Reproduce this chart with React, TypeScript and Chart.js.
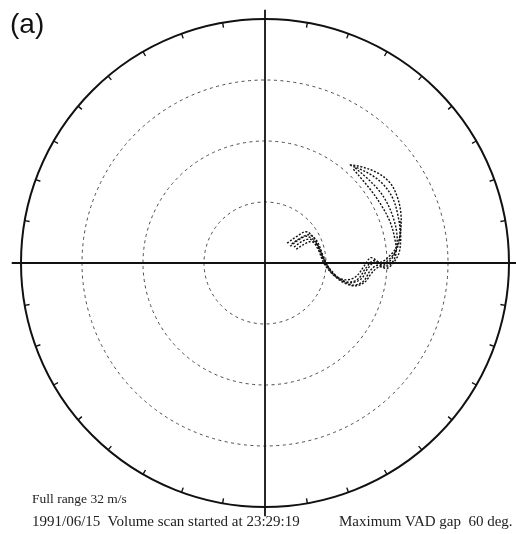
import React, { useEffect, useRef } from "react";
import { Chart, registerables } from "chart.js";

Chart.register(...registerables);

// Hodograph: wind components (m/s), u = east-west, v = north-south
const FULL_RANGE = 32;
const RING_SPEEDS = [8, 16, 24];
const TICK_STEP_DEG = 10;

// Several VAD profiles from the volume scan, one trace each
const traceA_u = [2.9, 4.2, 5.4, 6.4, 7.2, 8.0, 8.9, 10.4, 11.9, 13.0, 13.9, 15.1, 16.3, 17.3, 17.8, 17.8, 17.3, 16.4, 14.8, 12.7, 11.1];
const traceA_v = [2.6, 3.5, 4.1, 3.3, 1.7, 0.0, -1.4, -2.2, -1.8, -0.4, 0.7, 0.1, 0.9, 2.2, 4.3, 6.7, 8.8, 10.5, 11.8, 12.6, 12.9];

const traceB_u = [3.3, 4.5, 5.5, 6.6, 7.3, 8.1, 9.2, 10.8, 12.2, 13.2, 14.2, 15.3, 16.5, 17.4, 17.7, 17.4, 16.8, 15.7, 14.2, 12.5, 11.2];
const traceB_v = [2.2, 3.1, 3.5, 2.8, 1.2, -0.4, -1.7, -2.5, -2.1, -0.7, 0.3, -0.1, 0.7, 2.1, 4.2, 6.4, 8.4, 10.1, 11.4, 12.3, 12.8];

const traceC_u = [3.5, 4.7, 5.8, 6.8, 7.6, 8.4, 9.6, 11.1, 12.6, 13.5, 14.4, 15.5, 16.5, 17.2, 17.3, 16.8, 15.9, 14.7, 13.2, 11.8];
const traceC_v = [2.5, 3.3, 3.7, 2.9, 1.0, -0.7, -2.0, -2.6, -2.1, -0.7, 0.1, -0.3, 0.4, 1.8, 3.8, 6.0, 8.1, 9.8, 11.3, 12.5];

const traceD_u = [3.8, 5.0, 6.0, 7.0, 7.7, 8.7, 10.0, 11.5, 12.9, 13.8, 14.7, 15.7, 16.7, 17.2, 17.0, 16.4, 15.3, 14.0, 12.7, 11.5];
const traceD_v = [2.1, 2.9, 3.1, 2.2, 0.5, -1.0, -2.2, -2.9, -2.4, -1.0, -0.3, -0.5, 0.1, 1.4, 3.3, 5.4, 7.5, 9.4, 11.0, 12.4];

const traceE_u = [4.1, 5.2, 6.2, 7.0, 7.7, 8.8, 10.2, 11.8, 13.1, 14.0, 15.0, 16.0, 16.9, 17.6, 17.8, 17.7];
const traceE_v = [1.8, 2.5, 2.8, 1.7, 0.0, -1.4, -2.5, -3.0, -2.5, -1.3, -0.5, -0.7, 0.1, 1.4, 3.4, 5.6];

const TRACES = [
  [traceA_u, traceA_v],
  [traceB_u, traceB_v],
  [traceC_u, traceC_v],
  [traceD_u, traceD_v],
  [traceE_u, traceE_v],
];

const toPoints = (u: number[], v: number[]) => u.map((x, i) => ({ x, y: v[i] }));

// Range rings, axes and compass ticks drawn under the traces
const hodoGrid = {
  id: "hodoGrid",
  beforeDatasetsDraw(chart: any) {
    const { ctx, scales } = chart;
    const xs = scales.x;
    const ys = scales.y;
    const cx = xs.getPixelForValue(0);
    const cy = ys.getPixelForValue(0);
    const px = (s: number) => xs.getPixelForValue(s) - cx;

    ctx.save();

    // dotted range rings
    ctx.strokeStyle = "#4a4a4a";
    ctx.lineWidth = 1;
    ctx.setLineDash([3, 3.5]);
    RING_SPEEDS.forEach((s) => {
      ctx.beginPath();
      ctx.arc(cx, cy, px(s), 0, Math.PI * 2);
      ctx.stroke();
    });
    ctx.setLineDash([]);

    // outer ring
    const R = px(FULL_RANGE);
    ctx.strokeStyle = "#111";
    ctx.lineWidth = 2;
    ctx.beginPath();
    ctx.arc(cx, cy, R, 0, Math.PI * 2);
    ctx.stroke();

    // axes, a little past the outer ring
    const ext = FULL_RANGE * 1.038;
    ctx.lineWidth = 1.8;
    ctx.beginPath();
    ctx.moveTo(xs.getPixelForValue(-ext), cy);
    ctx.lineTo(xs.getPixelForValue(ext), cy);
    ctx.moveTo(cx, ys.getPixelForValue(ext));
    ctx.lineTo(cx, ys.getPixelForValue(-ext));
    ctx.stroke();

    // inward ticks every 10 degrees
    ctx.lineWidth = 1.4;
    const tickLen = px(0.65);
    ctx.beginPath();
    for (let d = 0; d < 360; d += TICK_STEP_DEG) {
      if (d % 90 === 0) continue;
      const a = (d * Math.PI) / 180;
      const sx = Math.sin(a);
      const sy = -Math.cos(a);
      ctx.moveTo(cx + sx * R, cy + sy * R);
      ctx.lineTo(cx + sx * (R - tickLen), cy + sy * (R - tickLen));
    }
    ctx.stroke();

    ctx.restore();
  },
};

const serif: React.CSSProperties = {
  position: "absolute",
  fontFamily: '"Liberation Serif", "Times New Roman", serif',
  color: "#222",
  whiteSpace: "pre",
};

export default function App() {
  const canvasRef = useRef<HTMLCanvasElement | null>(null);

  useEffect(() => {
    if (!canvasRef.current) return;
    const chart = new Chart(canvasRef.current, {
      type: "scatter",
      data: {
        datasets: TRACES.map(([u, v]) => ({
          data: toPoints(u, v),
          showLine: true,
          borderColor: "#111",
          borderWidth: 1.4,
          borderDash: [2, 1.6],
          pointRadius: 0,
          tension: 0.35,
          fill: false,
        })),
      },
      options: {
        responsive: false,
        animation: false,
        devicePixelRatio: 1,
        layout: { padding: { left: 21, right: 7, top: 19, bottom: 27 } },
        scales: {
          x: { type: "linear", min: -FULL_RANGE, max: FULL_RANGE, display: false },
          y: { type: "linear", min: -FULL_RANGE, max: FULL_RANGE, display: false },
        },
        plugins: {
          legend: { display: false },
          tooltip: { enabled: false },
        },
      },
      plugins: [hodoGrid],
    });
    return () => chart.destroy();
  }, []);

  return (
    <div style={{ position: "absolute", left: 0, top: 0, width: 516, height: 534, background: "#fff" }}>
      <canvas ref={canvasRef} width={516} height={534} style={{ width: 516, height: 534, display: "block" }} />
      <div
        style={{
          position: "absolute",
          left: 10,
          top: 10,
          fontFamily: '"Liberation Sans", Arial, sans-serif',
          fontSize: 28,
          lineHeight: "28px",
          color: "#111",
        }}
      >
        (a)
      </div>
      <div style={{ ...serif, left: 32, top: 492, fontSize: 13.5, lineHeight: "13.5px" }}>Full range 32 m/s</div>
      <div style={{ ...serif, left: 32, top: 514, fontSize: 15, lineHeight: "15px" }}>
        1991/06/15  Volume scan started at 23:29:19
      </div>
      <div style={{ ...serif, left: 339, top: 514, fontSize: 15, lineHeight: "15px" }}>Maximum VAD gap  60 deg.</div>
    </div>
  );
}
